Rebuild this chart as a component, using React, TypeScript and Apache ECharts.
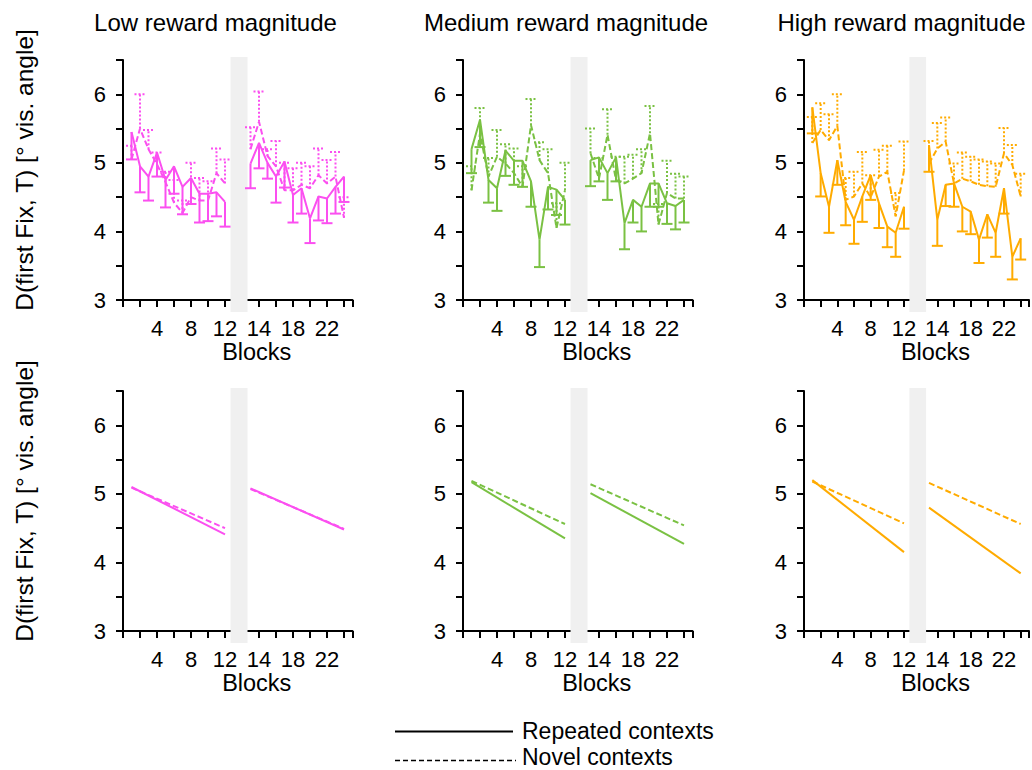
import React, { useEffect, useRef } from "react";
import * as echarts from "echarts";

// ---------- data ----------
const blocks = [1, 2, 3, 4, 5, 6, 7, 8, 9, 10, 11, 12, 13, 14, 15, 16, 17, 18, 19, 20, 21, 22, 23, 24];
const panelTitles = ["Low reward magnitude", "Medium reward magnitude", "High reward magnitude"];
const panelColors = ["#fb4ff0", "#7ac143", "#ffab00"];
const xLabelBlocks = [4, 8, 12, 14, 18, 22];
const yLabelValues = [3, 4, 5, 6];
const legendLabels = ["Repeated contexts", "Novel contexts"];
const yAxisTitle = "D(first Fix, T) [° vis. angle]";
const xAxisTitle = "Blocks";

const lowRepeatedMean = [5.45, 4.95, 4.8, 5.15, 4.75, 4.95, 4.65, 4.78, 4.55, 4.55, 4.57, 4.43, 4.99, 5.29, 5.0, 4.8, 5.02, 4.53, 4.63, 4.19, 4.51, 4.48, 4.65, 4.8];
const lowRepeatedSE = [0.4, 0.38, 0.35, 0.35, 0.4, 0.4, 0.4, 0.38, 0.42, 0.4, 0.35, 0.36, 0.36, 0.37, 0.23, 0.38, 0.38, 0.4, 0.37, 0.36, 0.35, 0.36, 0.39, 0.37];
const lowNovelMean = [5.05, 5.5, 5.2, 4.98, 4.72, 4.42, 4.27, 4.5, 4.45, 4.45, 4.85, 4.7, 5.2, 5.6, 5.1, 4.95, 4.6, 4.6, 4.68, 4.63, 4.82, 4.7, 4.8, 4.2];
const lowNovelSE = [0.2, 0.5, 0.28, 0.17, 0.15, 0.33, 0.18, 0.5, 0.33, 0.28, 0.36, 0.35, 0.32, 0.44, 0.1, 0.37, 0.4, 0.32, 0.32, 0.32, 0.39, 0.34, 0.36, 0.3];

const medRepeatedMean = [5.2, 5.63, 4.75, 4.63, 5.18, 5.03, 5.03, 4.73, 3.88, 4.65, 4.61, 4.46, 5.04, 5.08, 4.85, 5.08, 4.12, 4.46, 4.36, 4.7, 4.7, 4.41, 4.37, 4.46];
const medRepeatedSE = [0.35, 0.4, 0.33, 0.33, 0.37, 0.35, 0.38, 0.37, 0.4, 0.33, 0.37, 0.36, 0.38, 0.35, 0.39, 0.35, 0.38, 0.33, 0.36, 0.34, 0.34, 0.3, 0.34, 0.33];
const medNovelMean = [4.6, 5.43, 4.8, 5.09, 4.99, 4.85, 4.65, 5.55, 5.04, 4.85, 4.05, 4.6, 5.14, 4.77, 5.41, 4.75, 4.7, 4.77, 4.85, 5.43, 4.1, 4.56, 4.48, 4.48];
const medNovelSE = [0.35, 0.37, 0.27, 0.39, 0.28, 0.36, 0.3, 0.38, 0.26, 0.35, 0.36, 0.4, 0.36, 0.3, 0.37, 0.34, 0.39, 0.35, 0.35, 0.4, 0.3, 0.47, 0.36, 0.32];

const highRepeatedMean = [5.81, 4.85, 4.36, 5.04, 4.43, 4.17, 4.51, 4.82, 4.41, 4.07, 3.98, 4.36, 5.26, 4.17, 4.68, 4.7, 4.36, 4.29, 3.88, 4.25, 3.98, 4.63, 3.63, 3.9];
const highRepeatedSE = [0.38, 0.34, 0.38, 0.36, 0.34, 0.35, 0.37, 0.36, 0.36, 0.3, 0.35, 0.32, 0.39, 0.38, 0.31, 0.34, 0.36, 0.33, 0.34, 0.34, 0.35, 0.37, 0.33, 0.31];
const highNovelMean = [5.29, 5.48, 5.33, 5.54, 4.46, 4.51, 4.7, 4.5, 4.8, 4.87, 4.22, 4.89, 4.99, 5.21, 5.31, 4.7, 4.77, 4.73, 4.68, 4.66, 4.65, 5.14, 4.97, 4.51];
const highNovelSE = [0.38, 0.39, 0.38, 0.46, 0.32, 0.36, 0.46, 0.32, 0.39, 0.38, 0.34, 0.42, 0.33, 0.37, 0.35, 0.29, 0.38, 0.36, 0.37, 0.36, 0.34, 0.37, 0.29, 0.33];

// regression fits: values at blocks 1, 12, 13, 24
const fitBlocks = [1, 12, 13, 24];
const lowRepeatedFit = [5.1, 4.41, 5.08, 4.48];
const lowNovelFit = [5.09, 4.5, 5.07, 4.49];
const medRepeatedFit = [5.17, 4.35, 5.01, 4.27];
const medNovelFit = [5.19, 4.56, 5.14, 4.54];
const highRepeatedFit = [5.2, 4.15, 4.8, 3.84];
const highNovelFit = [5.18, 4.57, 5.16, 4.56];

const repeatedMeans = [lowRepeatedMean, medRepeatedMean, highRepeatedMean];
const repeatedSEs = [lowRepeatedSE, medRepeatedSE, highRepeatedSE];
const novelMeans = [lowNovelMean, medNovelMean, highNovelMean];
const novelSEs = [lowNovelSE, medNovelSE, highNovelSE];
const repeatedFits = [lowRepeatedFit, medRepeatedFit, highRepeatedFit];
const novelFits = [lowNovelFit, medNovelFit, highNovelFit];

// ---------- layout ----------
const FONT = "'Liberation Sans', Arial, sans-serif";
const gridLefts = [123, 463, 804];
const gridTops = [60, 391];
const GRID_W = 229.5;
const GRID_H = 240;
const bandRange = [12.65, 14.65];

// blocks after the break are shifted by 2 on the axis
const toAxis = (b: number) => (b <= 12 ? b : b + 2);
const fromAxis = (v: number) => (v <= 12 ? v : v >= 15 ? v - 2 : null);

export default function App() {
  const ref = useRef<HTMLDivElement>(null);

  useEffect(() => {
    if (!ref.current) return;
    const chart = echarts.init(ref.current, undefined, { renderer: "svg" });

    const grids: any[] = [];
    const xAxes: any[] = [];
    const yAxes: any[] = [];
    const series: any[] = [];

    for (let r = 0; r < 2; r++) {
      for (let c = 0; c < 3; c++) {
        const gi = r * 3 + c;
        grids.push({ left: gridLefts[c], top: gridTops[r], width: GRID_W, height: GRID_H });
        xAxes.push({
          type: "value",
          gridIndex: gi,
          min: 0,
          max: 27,
          interval: 2,
          splitLine: { show: false },
          axisLine: { show: true, onZero: false, lineStyle: { color: "#000", width: 2 } },
          axisTick: { show: true, length: 7, lineStyle: { color: "#000", width: 2 } },
          axisLabel: {
            color: "#000",
            fontSize: 22,
            fontFamily: FONT,
            margin: 17,
            formatter: (v: number) => {
              const b = fromAxis(v);
              return b !== null && xLabelBlocks.includes(b) ? String(b) : "";
            },
          },
          name: xAxisTitle,
          nameLocation: "middle",
          nameGap: 40,
          nameTextStyle: { color: "#000", fontSize: 23.5, fontFamily: FONT, padding: [0, 0, 0, 38] },
        });
        yAxes.push({
          type: "value",
          gridIndex: gi,
          min: 3,
          max: 6.5,
          interval: 0.5,
          splitLine: { show: false },
          axisLine: { show: true, lineStyle: { color: "#000", width: 2 } },
          axisTick: { show: true, length: 7, lineStyle: { color: "#000", width: 2 } },
          axisLabel: {
            color: "#000",
            fontSize: 22,
            fontFamily: FONT,
            margin: 17,
            formatter: (v: number) => (yLabelValues.includes(v) ? String(v) : ""),
          },
        });

        const color = panelColors[c];
        // gray break band
        series.push({
          type: "custom",
          xAxisIndex: gi,
          yAxisIndex: gi,
          clip: false,
          z: 1,
          silent: true,
          encode: { x: [0, 2], y: [1, 3] },
          data: [[bandRange[0], 6.5, bandRange[1], 3]],
          renderItem: (_p: any, api: any) => {
            const a = api.coord([api.value(0), api.value(1)]);
            const b = api.coord([api.value(2), api.value(3)]);
            return {
              type: "rect",
              shape: { x: a[0], y: a[1] - 3, width: b[0] - a[0], height: b[1] - a[1] + 15 },
              style: { fill: "#f0f0f0" },
            };
          },
        });

        if (r === 0) {
          const rep = repeatedMeans[c];
          const nov = novelMeans[c];
          const repSE = repeatedSEs[c];
          const novSE = novelSEs[c];
          const seg = (vals: number[], from: number, to: number) =>
            blocks.slice(from, to).map((b, i) => [toAxis(b), vals[from + i]]);
          const lineBase = { type: "line", xAxisIndex: gi, yAxisIndex: gi, symbol: "none", z: 3, silent: true };
          series.push({ ...lineBase, data: seg(rep, 0, 12), lineStyle: { color, width: 2 } });
          series.push({ ...lineBase, data: seg(rep, 12, 24), lineStyle: { color, width: 2 } });
          series.push({ ...lineBase, data: seg(nov, 0, 12), lineStyle: { color, width: 2, type: [6, 3] } });
          series.push({ ...lineBase, data: seg(nov, 12, 24), lineStyle: { color, width: 2, type: [6, 3] } });

          const errSeries = (vals: number[], ses: number[], dir: number, dotted: boolean) => ({
            type: "custom",
            xAxisIndex: gi,
            yAxisIndex: gi,
            clip: false,
            z: 3,
            silent: true,
            encode: { x: 0, y: 1 },
            data: blocks.map((b, i) => [toAxis(b), vals[i], ses[i], dir]),
            renderItem: (_p: any, api: any) => {
              const x = api.value(0);
              const y = api.value(1);
              const e = api.value(2);
              const d = api.value(3);
              const p0 = api.coord([x, y]);
              const p1 = api.coord([x, y + d * e]);
              const style: any = { stroke: color, lineWidth: 2, fill: null };
              if (dotted) style.lineDash = [2, 2];
              return {
                type: "group",
                children: [
                  { type: "line", shape: { x1: p0[0], y1: p0[1], x2: p1[0], y2: p1[1] }, style },
                  { type: "line", shape: { x1: p1[0] - 5.5, y1: p1[1], x2: p1[0] + 5.5, y2: p1[1] }, style },
                ],
              };
            },
          });
          series.push(errSeries(rep, repSE, -1, false));
          series.push(errSeries(nov, novSE, 1, true));
        } else {
          const rf = repeatedFits[c];
          const nf = novelFits[c];
          const lineBase = { type: "line", xAxisIndex: gi, yAxisIndex: gi, symbol: "none", z: 3, silent: true };
          const fitSeg = (vals: number[], k: number) => [
            [toAxis(fitBlocks[k]), vals[k]],
            [toAxis(fitBlocks[k + 1]), vals[k + 1]],
          ];
          series.push({ ...lineBase, data: fitSeg(rf, 0), lineStyle: { color, width: 2 } });
          series.push({ ...lineBase, data: fitSeg(rf, 2), lineStyle: { color, width: 2 } });
          series.push({ ...lineBase, data: fitSeg(nf, 0), lineStyle: { color, width: 2, type: [6, 3] } });
          series.push({ ...lineBase, data: fitSeg(nf, 2), lineStyle: { color, width: 2, type: [6, 3] } });
        }
      }
    }

    const titleCenters = [215.5, 566, 901.5];
    const graphic: any[] = [];
    panelTitles.forEach((t, i) => {
      graphic.push({
        type: "text",
        x: titleCenters[i],
        y: 22,
        style: { text: t, fontSize: 24, fontFamily: FONT, fill: "#000", align: "center", verticalAlign: "middle" },
      });
    });
    [170, 501].forEach((cy) => {
      graphic.push({
        type: "text",
        x: 24,
        y: cy,
        rotation: Math.PI / 2,
        style: { text: yAxisTitle, fontSize: 24.5, fontFamily: FONT, fill: "#000", align: "center", verticalAlign: "middle" },
      });
    });
    graphic.push({ type: "line", shape: { x1: 395, y1: 731.5, x2: 513, y2: 731.5 }, style: { stroke: "#000", lineWidth: 2 } });
    graphic.push({ type: "line", shape: { x1: 395, y1: 760.5, x2: 516, y2: 760.5 }, style: { stroke: "#000", lineWidth: 1.5, lineDash: [5, 3] } });
    graphic.push({ type: "text", x: 522, y: 731, style: { text: legendLabels[0], fontSize: 23, fontFamily: FONT, fill: "#000", verticalAlign: "middle" } });
    graphic.push({ type: "text", x: 522, y: 757, style: { text: legendLabels[1], fontSize: 23, fontFamily: FONT, fill: "#000", verticalAlign: "middle" } });

    chart.setOption({
      animation: false,
      backgroundColor: "#fff",
      textStyle: { fontFamily: FONT },
      grid: grids,
      xAxis: xAxes,
      yAxis: yAxes,
      series,
      graphic,
    });

    return () => chart.dispose();
  }, []);

  return (
    <div
      ref={ref}
      style={{ position: "fixed", left: 0, top: 0, width: 1032, height: 770, background: "#fff" }}
    />
  );
}
